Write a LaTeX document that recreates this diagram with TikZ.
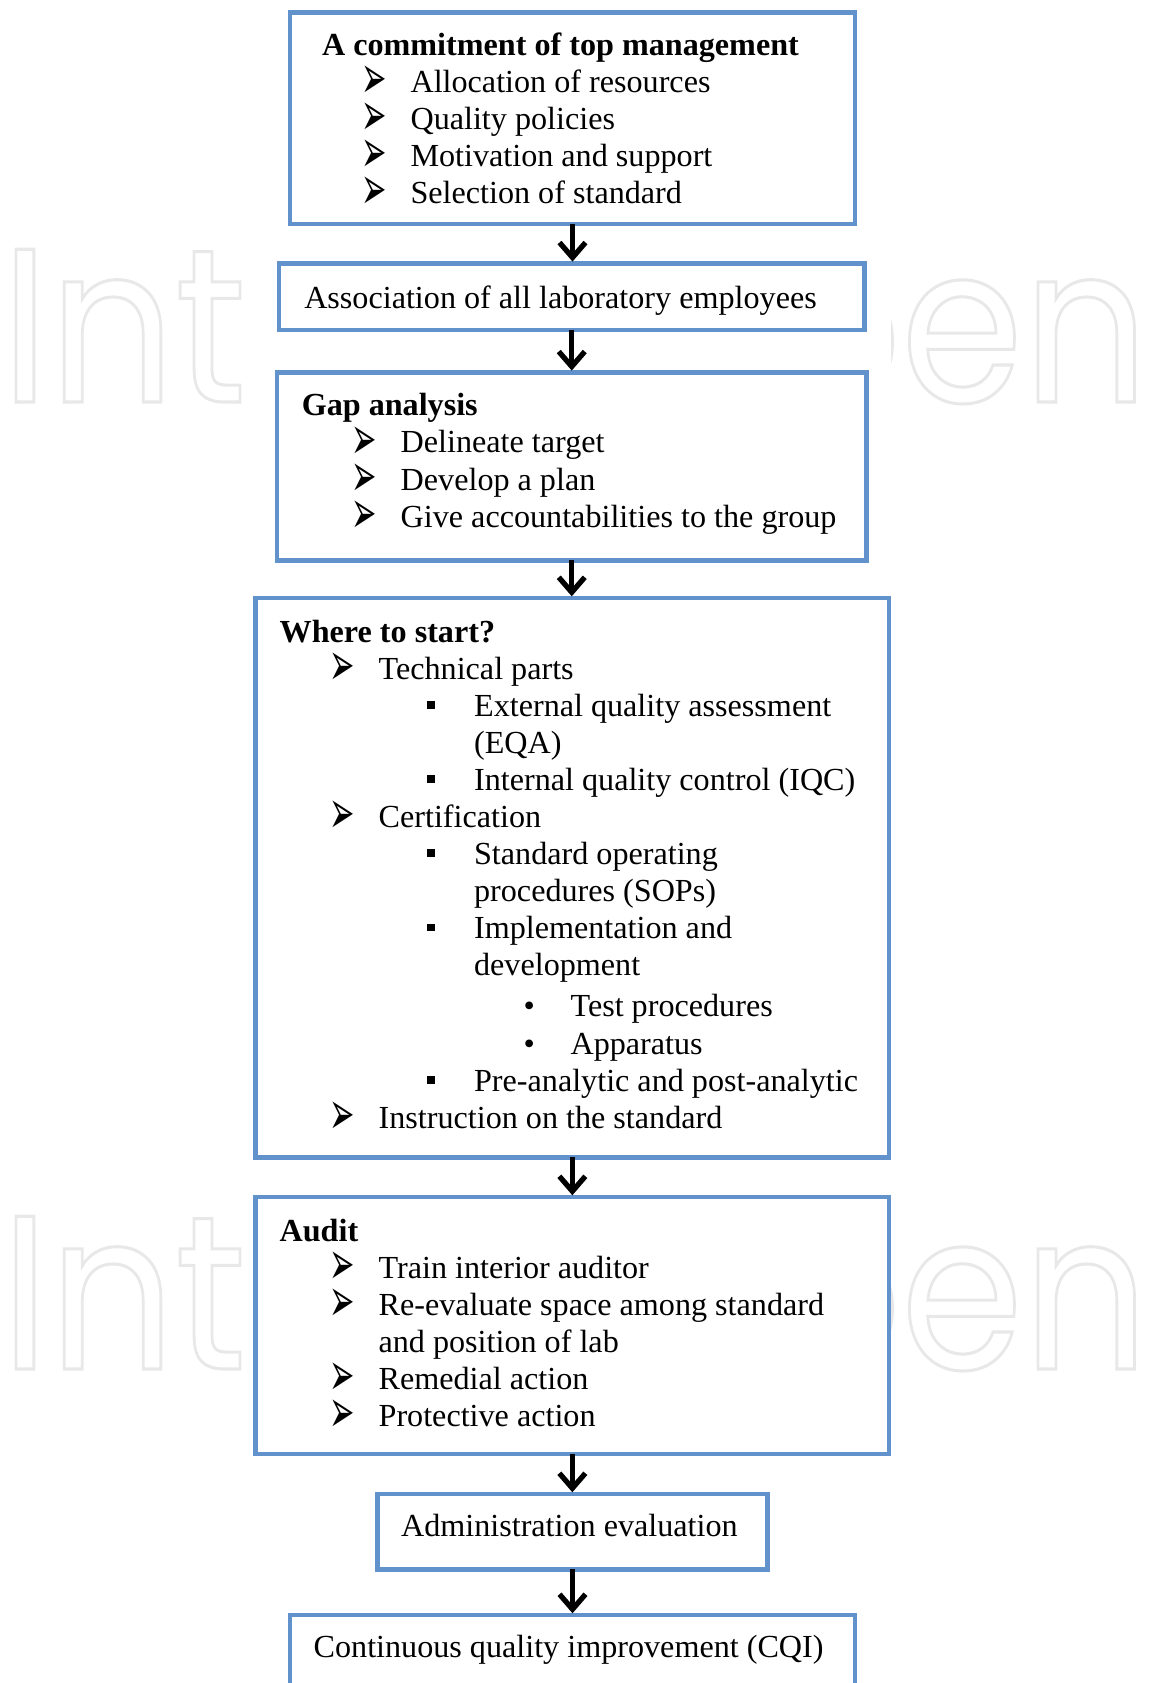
\documentclass[tikz,border=0pt]{standalone}
\usepackage{fontspec}
\usepackage{graphicx}
\setmainfont{Liberation Serif}
\newfontfamily\symfont{DejaVu Sans}
\newfontfamily\wmfont{Poppins}
\usetikzlibrary{arrows.meta}

\definecolor{boxblue}{RGB}{98,146,203}
\definecolor{wmgray}{RGB}{232,232,232}

% list bullets and indents
\newcommand{\arrbul}{\raisebox{-3.6pt}[0pt][0pt]{\scalebox{0.72}[1.45]{\symfont\fontsize{24}{24}\selectfont ➢}}}
\newcommand{\sqbul}{\raisebox{0.155cm}{\rule{0.16cm}{0.15cm}}}
\newcommand{\lvlone}[2][1cm]{\hspace*{#1}\makebox[0.98cm][l]{\arrbul}#2}
\newcommand{\lvltwo}[1]{\hspace*{2.95cm}\makebox[0.94cm][l]{\sqbul}#1}
\newcommand{\lvltwoc}[1]{\hspace*{3.89cm}#1}
\newcommand{\lvlthree}[1]{\hspace*{4.88cm}\makebox[0.94cm][l]{\textbullet}#1}
% outlined watermark, middle hidden by the chart anyway
\newcommand{\wmtext}[1]{\scalebox{1}[1.115]{\resizebox{22.96cm}{!}{%
  \special{pdf:literal direct 1 Tr 1.6 w}\wmfont\fontsize{113}{113}\selectfont #1\special{pdf:literal direct 0 Tr}}}}

\tikzset{
  flowbox/.style={draw=boxblue, line width=2.6pt, fill=white, inner sep=0pt, outer sep=0pt},
  boxtext/.style={anchor=north west, align=left, inner sep=0pt, font=\fontsize{18.3}{21.1}\selectfont},
  flowarrow/.style={line width=3pt, -{Straight Barb[length=0.3cm,width=0.52cm]}, shorten >=1pt},
  wmark/.style={anchor=base west, inner sep=0pt, text=wmgray}
}

\begin{document}
\begin{tikzpicture}[x=0.02cm, y=-0.02cm]
\useasboundingbox (0,0) rectangle (1151,1683);
\clip (0,0) rectangle (1151,1683);

% watermark
\foreach \y/\n in {402/1, 1369/2} {
  \node[wmark] (wmleft\n) at (0.5,\y) {\wmtext{Int\phantom{echOpen}}};
  \node[wmark] (wmright\n) at (0.5,\y) {\wmtext{\phantom{IntechO}pen}};
}
\fill[white] (253,0) rectangle (891,1683);

% boxes
\node[flowbox, minimum width=11.30cm, minimum height=4.226cm] (mgmt) at (572.5,118.35) {};
\node[flowbox, minimum width=11.71cm, minimum height=1.334cm] (assoc) at (571.75,296.65) {};
\node[flowbox, minimum width=11.79cm, minimum height=3.764cm] (gap) at (571.75,466.4) {};
\node[flowbox, minimum width=12.666cm, minimum height=11.19cm] (start) at (572.35,877.75) {};
\node[flowbox, minimum width=12.666cm, minimum height=5.136cm] (audit) at (572.35,1325.4) {};
\node[flowbox, minimum width=7.808cm, minimum height=1.506cm] (admin) at (572.5,1531.65) {};
\node[flowbox, minimum width=11.30cm, minimum height=1.5cm] (cqi) at (572.5,1652.5) {};

% texts
\node[boxtext] (mgmttext) at (321.7,29) {\textbf{A commitment of top management}\strut\\
  \lvlone[0.79cm]{Allocation of resources}\\
  \lvlone[0.79cm]{Quality policies}\\
  \lvlone[0.79cm]{Motivation and support}\\
  \lvlone[0.79cm]{Selection of standard}};
\node[boxtext] (assoctext) at (303.9,282) {\strut Association of all laboratory employees};
\node[boxtext] (gaptext) at (301.4,389.6) {\textbf{Gap analysis}\strut\\
  \lvlone{Delineate target}\\
  \lvlone{Develop a plan}\\
  \lvlone{Give accountabilities to the group}};
\node[boxtext] (starttext) at (279.3,616) {\textbf{Where to start?}\strut\\
  \lvlone{Technical parts}\\
  \lvltwo{External quality assessment}\\
  \lvltwoc{(EQA)}\\
  \lvltwo{Internal quality control (IQC)}\\
  \lvlone{Certification}\\
  \lvltwo{Standard operating}\\
  \lvltwoc{procedures (SOPs)}\\
  \lvltwo{Implementation and}\\
  \lvltwoc{development}\\[1.8pt]
  \lvlthree{Test procedures}\\[0.6pt]
  \lvlthree{Apparatus}\\
  \lvltwo{Pre-analytic and post-analytic}\\
  \lvlone{Instruction on the standard}};
\node[boxtext] (audittext) at (279.3,1214.8) {\textbf{Audit}\strut\\
  \lvlone{Train interior auditor}\\
  \lvlone{Re-evaluate space among standard}\\
  \hspace*{1.98cm}and position of lab\\
  \lvlone{Remedial action}\\
  \lvlone{Protective action}};
\node[boxtext] (admintext) at (400.7,1510) {\strut Administration evaluation};
\node[boxtext] (cqitext) at (313.3,1631) {\strut Continuous quality improvement (CQI)};

% connectors
\foreach \a/\b in {mgmt/assoc, assoc/gap, gap/start, start/audit, audit/admin, admin/cqi}
  \draw[flowarrow] (\a.south) -- (\a.south |- \b.north);

\end{tikzpicture}
\end{document}
